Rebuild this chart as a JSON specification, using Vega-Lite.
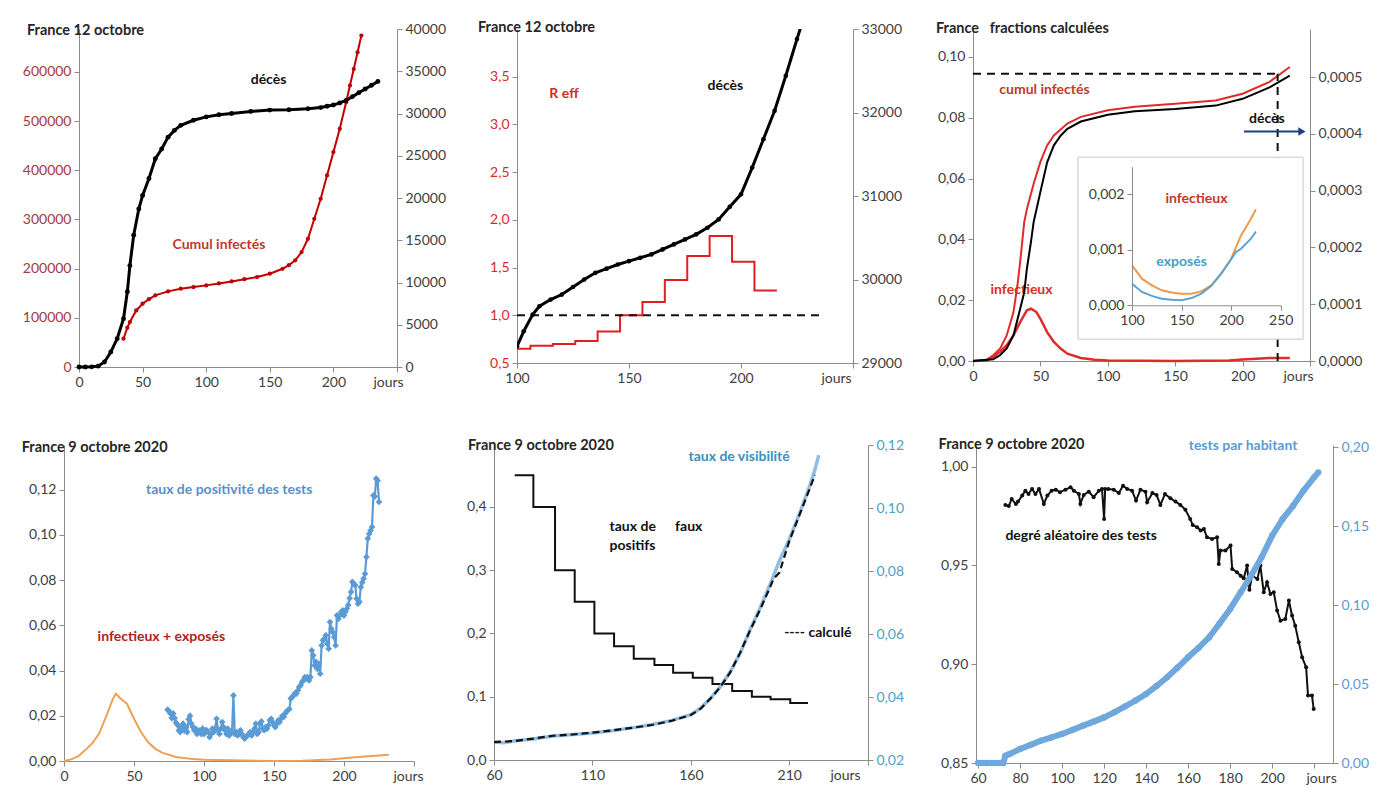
{
"$schema": "https://vega.github.io/schema/vega-lite/v6.json",
"padding": {"top": 19, "left": 5, "right": 5, "bottom": 5},
"background": "white",
"columns": 1,
"align": "none",
"spacing": 48,
"config": {
  "font": "Lato",
  "view": {"stroke": null},
  "axis": {"grid": false, "domainColor": "#8c8c8c", "tickColor": "#8c8c8c", "labelColor": "#404040", "labelFont": "Lato", "labelFontSize": 14, "tickSize": 5, "labelPadding": 3, "labelOverlap": false},
  "axisX": {"labelFlush": false},
  "title": {"font": "Lato", "fontSize": 14.5, "fontWeight": "bold", "color": "#262626"},
  "text": {"font": "Lato", "fontWeight": "bold", "fontSize": 14},
  "locale": {"number": {"decimal": ",", "thousands": "\u00a0", "grouping": [3], "currency": ["", "\u00a0€"]}}
},
"datasets": {
  "p1c": [{"jour":35,"v":57500},{"jour":38,"v":80000},{"jour":40,"v":91500},{"jour":45,"v":115000},{"jour":50,"v":128700},{"jour":55,"v":138000},{"jour":60,"v":145700},{"jour":70,"v":153800},{"jour":80,"v":159200},{"jour":90,"v":162500},{"jour":100,"v":166000},{"jour":110,"v":170000},{"jour":120,"v":174100},{"jour":130,"v":178500},{"jour":140,"v":183000},{"jour":150,"v":189700},{"jour":160,"v":199800},{"jour":165,"v":207000},{"jour":170,"v":216900},{"jour":175,"v":233700},{"jour":180,"v":260800},{"jour":185,"v":301400},{"jour":190,"v":342000},{"jour":195,"v":389600},{"jour":200,"v":437000},{"jour":205,"v":484400},{"jour":210,"v":538600},{"jour":213,"v":572500},{"jour":216,"v":606000},{"jour":219,"v":640000},{"jour":222,"v":674000}],
  "p1d": [{"jour":0,"v":0},{"jour":5,"v":5},{"jour":10,"v":20},{"jour":15,"v":100},{"jour":20,"v":590},{"jour":25,"v":1770},{"jour":30,"v":3350},{"jour":35,"v":5720},{"jour":38,"v":8900},{"jour":40,"v":12000},{"jour":43,"v":15600},{"jour":47,"v":18700},{"jour":50,"v":20300},{"jour":55,"v":22300},{"jour":60,"v":24650},{"jour":65,"v":25800},{"jour":70,"v":27200},{"jour":75,"v":28000},{"jour":80,"v":28600},{"jour":90,"v":29200},{"jour":100,"v":29600},{"jour":110,"v":29850},{"jour":120,"v":30000},{"jour":135,"v":30250},{"jour":150,"v":30400},{"jour":165,"v":30450},{"jour":180,"v":30570},{"jour":190,"v":30700},{"jour":195,"v":30850},{"jour":200,"v":31000},{"jour":205,"v":31250},{"jour":210,"v":31550},{"jour":215,"v":32000},{"jour":220,"v":32450},{"jour":225,"v":32900},{"jour":230,"v":33350},{"jour":235,"v":33800}],
  "p2d": [{"jour":100,"v":29200},{"jour":103,"v":29380},{"jour":107,"v":29580},{"jour":110,"v":29680},{"jour":115,"v":29760},{"jour":120,"v":29820},{"jour":125,"v":29910},{"jour":130,"v":30000},{"jour":135,"v":30080},{"jour":140,"v":30130},{"jour":145,"v":30180},{"jour":150,"v":30220},{"jour":155,"v":30260},{"jour":160,"v":30300},{"jour":165,"v":30360},{"jour":170,"v":30420},{"jour":175,"v":30480},{"jour":180,"v":30540},{"jour":185,"v":30620},{"jour":190,"v":30720},{"jour":195,"v":30870},{"jour":200,"v":31020},{"jour":205,"v":31340},{"jour":210,"v":31680},{"jour":215,"v":32020},{"jour":220,"v":32440},{"jour":225,"v":32880},{"jour":227,"v":33050}],
  "p2r": [{"jour":100,"v":0.65},{"jour":106,"v":0.68},{"jour":116,"v":0.70},{"jour":126,"v":0.73},{"jour":136,"v":0.83},{"jour":146,"v":1.0},{"jour":156,"v":1.14},{"jour":166,"v":1.37},{"jour":176,"v":1.62},{"jour":186,"v":1.83},{"jour":196,"v":1.56},{"jour":206,"v":1.26},{"jour":216,"v":1.26}],
  "p3c": [{"jour":0,"v":0},{"jour":10,"v":0.0004},{"jour":15,"v":0.0019},{"jour":20,"v":0.004},{"jour":25,"v":0.0084},{"jour":30,"v":0.016},{"jour":33,"v":0.025},{"jour":35,"v":0.0326},{"jour":38,"v":0.0457},{"jour":40,"v":0.05},{"jour":45,"v":0.0583},{"jour":50,"v":0.0655},{"jour":55,"v":0.0709},{"jour":60,"v":0.0742},{"jour":70,"v":0.0781},{"jour":80,"v":0.0803},{"jour":100,"v":0.0825},{"jour":120,"v":0.0836},{"jour":150,"v":0.0846},{"jour":180,"v":0.0857},{"jour":200,"v":0.0879},{"jour":220,"v":0.0918},{"jour":235,"v":0.0967}],
  "p3i": [{"jour":0,"v":0},{"jour":10,"v":0.0002},{"jour":15,"v":0.0013},{"jour":20,"v":0.003},{"jour":25,"v":0.0052},{"jour":30,"v":0.0084},{"jour":35,"v":0.0128},{"jour":40,"v":0.0167},{"jour":43,"v":0.0172},{"jour":47,"v":0.0161},{"jour":50,"v":0.0139},{"jour":55,"v":0.0095},{"jour":60,"v":0.0063},{"jour":65,"v":0.0041},{"jour":70,"v":0.0024},{"jour":80,"v":0.001},{"jour":90,"v":0.0004},{"jour":100,"v":0.0002},{"jour":150,"v":0},{"jour":190,"v":0.0002},{"jour":200,"v":0.0005},{"jour":220,"v":0.001},{"jour":235,"v":0.001}],
  "p3d": [{"jour":0,"v":0},{"jour":15,"v":0.000003},{"jour":20,"v":0.00001},{"jour":25,"v":0.000022},{"jour":30,"v":0.000045},{"jour":35,"v":0.000092},{"jour":38,"v":0.000121},{"jour":40,"v":0.000163},{"jour":43,"v":0.00021},{"jour":45,"v":0.000245},{"jour":50,"v":0.000298},{"jour":55,"v":0.00035},{"jour":60,"v":0.00038},{"jour":65,"v":0.000397},{"jour":70,"v":0.000409},{"jour":80,"v":0.000422},{"jour":100,"v":0.000434},{"jour":120,"v":0.00044},{"jour":150,"v":0.000444},{"jour":180,"v":0.00045},{"jour":200,"v":0.000462},{"jour":220,"v":0.000482},{"jour":235,"v":0.000503}],
  "p3o": [{"jour":100,"v":0.00072},{"jour":110,"v":0.00048},{"jour":120,"v":0.00036},{"jour":130,"v":0.00027},{"jour":140,"v":0.00023},{"jour":150,"v":0.00021},{"jour":160,"v":0.00021},{"jour":170,"v":0.00025},{"jour":180,"v":0.00036},{"jour":190,"v":0.00057},{"jour":200,"v":0.00084},{"jour":210,"v":0.00126},{"jour":220,"v":0.00156},{"jour":225,"v":0.00173}],
  "p3b": [{"jour":100,"v":0.00039},{"jour":110,"v":0.00024},{"jour":120,"v":0.00017},{"jour":130,"v":0.00012},{"jour":140,"v":0.0001},{"jour":150,"v":0.00009},{"jour":160,"v":0.00013},{"jour":170,"v":0.00021},{"jour":180,"v":0.00035},{"jour":190,"v":0.00057},{"jour":200,"v":0.00083},{"jour":205,"v":0.00096},{"jour":210,"v":0.00102},{"jour":220,"v":0.0012},{"jour":225,"v":0.00133}],
  "p4o": [{"jour":0,"v":0},{"jour":5,"v":0.0007},{"jour":10,"v":0.002},{"jour":15,"v":0.0047},{"jour":20,"v":0.0077},{"jour":25,"v":0.012},{"jour":30,"v":0.0195},{"jour":35,"v":0.0276},{"jour":37,"v":0.0298},{"jour":40,"v":0.0279},{"jour":45,"v":0.0253},{"jour":50,"v":0.0187},{"jour":55,"v":0.0128},{"jour":60,"v":0.0084},{"jour":65,"v":0.0055},{"jour":70,"v":0.0037},{"jour":80,"v":0.0018},{"jour":90,"v":0.001},{"jour":100,"v":0.0006},{"jour":120,"v":0.0003},{"jour":150,"v":0},{"jour":170,"v":0.0001},{"jour":190,"v":0.0007},{"jour":200,"v":0.0012},{"jour":210,"v":0.0018},{"jour":220,"v":0.0022},{"jour":232,"v":0.0028}],
  "p4b": [{"jour":74,"v":0.0227},{"jour":75,"v":0.022},{"jour":76,"v":0.021},{"jour":77,"v":0.019},{"jour":78,"v":0.021},{"jour":79,"v":0.019},{"jour":80,"v":0.017},{"jour":81,"v":0.016},{"jour":82,"v":0.0135},{"jour":83,"v":0.0128},{"jour":84,"v":0.015},{"jour":85,"v":0.0165},{"jour":86,"v":0.0135},{"jour":87,"v":0.015},{"jour":88,"v":0.0128},{"jour":89,"v":0.0185},{"jour":90,"v":0.02},{"jour":91,"v":0.0165},{"jour":92,"v":0.015},{"jour":93,"v":0.0136},{"jour":94,"v":0.0143},{"jour":95,"v":0.012},{"jour":96,"v":0.0128},{"jour":97,"v":0.0136},{"jour":98,"v":0.012},{"jour":99,"v":0.0143},{"jour":100,"v":0.012},{"jour":101,"v":0.0136},{"jour":102,"v":0.0136},{"jour":103,"v":0.0128},{"jour":104,"v":0.0106},{"jour":105,"v":0.012},{"jour":106,"v":0.0143},{"jour":107,"v":0.0128},{"jour":108,"v":0.0143},{"jour":109,"v":0.0187},{"jour":110,"v":0.0136},{"jour":111,"v":0.012},{"jour":112,"v":0.0143},{"jour":113,"v":0.0172},{"jour":114,"v":0.015},{"jour":115,"v":0.0136},{"jour":116,"v":0.012},{"jour":117,"v":0.0143},{"jour":118,"v":0.0113},{"jour":119,"v":0.0128},{"jour":120,"v":0.0128},{"jour":121,"v":0.029},{"jour":122,"v":0.012},{"jour":123,"v":0.0128},{"jour":124,"v":0.0113},{"jour":125,"v":0.012},{"jour":126,"v":0.0136},{"jour":127,"v":0.012},{"jour":128,"v":0.0106},{"jour":129,"v":0.0099},{"jour":130,"v":0.0106},{"jour":131,"v":0.0113},{"jour":132,"v":0.012},{"jour":133,"v":0.0128},{"jour":134,"v":0.0113},{"jour":135,"v":0.0128},{"jour":136,"v":0.0143},{"jour":137,"v":0.0165},{"jour":138,"v":0.012},{"jour":139,"v":0.0128},{"jour":140,"v":0.0165},{"jour":141,"v":0.0175},{"jour":142,"v":0.0143},{"jour":143,"v":0.0136},{"jour":144,"v":0.015},{"jour":145,"v":0.0143},{"jour":146,"v":0.0158},{"jour":147,"v":0.018},{"jour":148,"v":0.0187},{"jour":149,"v":0.0172},{"jour":150,"v":0.0158},{"jour":151,"v":0.015},{"jour":152,"v":0.0165},{"jour":153,"v":0.018},{"jour":154,"v":0.0172},{"jour":155,"v":0.0187},{"jour":156,"v":0.02},{"jour":157,"v":0.0195},{"jour":158,"v":0.021},{"jour":159,"v":0.022},{"jour":160,"v":0.0225},{"jour":161,"v":0.023},{"jour":162,"v":0.0276},{"jour":163,"v":0.0283},{"jour":164,"v":0.029},{"jour":165,"v":0.03},{"jour":166,"v":0.0298},{"jour":167,"v":0.0312},{"jour":168,"v":0.0327},{"jour":169,"v":0.0335},{"jour":170,"v":0.0349},{"jour":171,"v":0.0357},{"jour":172,"v":0.0371},{"jour":173,"v":0.0364},{"jour":174,"v":0.0371},{"jour":175,"v":0.0357},{"jour":176,"v":0.0371},{"jour":177,"v":0.0489},{"jour":178,"v":0.0467},{"jour":179,"v":0.0423},{"jour":180,"v":0.0438},{"jour":181,"v":0.0408},{"jour":182,"v":0.043},{"jour":183,"v":0.0386},{"jour":184,"v":0.0511},{"jour":185,"v":0.0534},{"jour":186,"v":0.0541},{"jour":187,"v":0.0556},{"jour":188,"v":0.0519},{"jour":189,"v":0.0497},{"jour":190,"v":0.0615},{"jour":191,"v":0.0585},{"jour":192,"v":0.057},{"jour":193,"v":0.0548},{"jour":194,"v":0.0511},{"jour":195,"v":0.0644},{"jour":196,"v":0.0629},{"jour":197,"v":0.0644},{"jour":198,"v":0.0659},{"jour":199,"v":0.0666},{"jour":200,"v":0.0644},{"jour":201,"v":0.066},{"jour":202,"v":0.0674},{"jour":203,"v":0.069},{"jour":204,"v":0.072},{"jour":205,"v":0.0748},{"jour":206,"v":0.0792},{"jour":207,"v":0.0785},{"jour":208,"v":0.0777},{"jour":209,"v":0.0718},{"jour":210,"v":0.0696},{"jour":211,"v":0.0704},{"jour":212,"v":0.0769},{"jour":213,"v":0.079},{"jour":214,"v":0.0807},{"jour":215,"v":0.0828},{"jour":216,"v":0.0903},{"jour":217,"v":0.0984},{"jour":218,"v":0.1005},{"jour":219,"v":0.102},{"jour":220,"v":0.1035},{"jour":221,"v":0.1175},{"jour":222,"v":0.117},{"jour":223,"v":0.1249},{"jour":224,"v":0.124},{"jour":225,"v":0.1146}],
  "p5s": [{"jour":70.5,"v":0.45},{"jour":80,"v":0.40},{"jour":91,"v":0.30},{"jour":101,"v":0.25},{"jour":111,"v":0.20},{"jour":121,"v":0.18},{"jour":131,"v":0.16},{"jour":141.5,"v":0.15},{"jour":151,"v":0.138},{"jour":161,"v":0.13},{"jour":171,"v":0.12},{"jour":181,"v":0.109},{"jour":191,"v":0.10},{"jour":200.5,"v":0.096},{"jour":210.5,"v":0.09},{"jour":219.5,"v":0.09}],
  "p5v": [{"jour":60,"v":0.0257},{"jour":65,"v":0.0255},{"jour":70,"v":0.026},{"jour":80,"v":0.0267},{"jour":90,"v":0.0276},{"jour":100,"v":0.0281},{"jour":110,"v":0.0286},{"jour":120,"v":0.0293},{"jour":130,"v":0.0302},{"jour":140,"v":0.0312},{"jour":150,"v":0.0325},{"jour":160,"v":0.0344},{"jour":165,"v":0.0365},{"jour":170,"v":0.0396},{"jour":175,"v":0.0433},{"jour":180,"v":0.048},{"jour":185,"v":0.0538},{"jour":190,"v":0.0612},{"jour":195,"v":0.068},{"jour":200,"v":0.0753},{"jour":205,"v":0.0832},{"jour":210,"v":0.09},{"jour":215,"v":0.0979},{"jour":220,"v":0.1063},{"jour":223,"v":0.1121},{"jour":225,"v":0.1168}],
  "p5k": [{"jour":60,"v":0.0257},{"jour":70,"v":0.026},{"jour":80,"v":0.0268},{"jour":90,"v":0.0277},{"jour":100,"v":0.0281},{"jour":110,"v":0.0287},{"jour":120,"v":0.0294},{"jour":130,"v":0.0302},{"jour":140,"v":0.0311},{"jour":150,"v":0.0324},{"jour":160,"v":0.0343},{"jour":165,"v":0.0363},{"jour":170,"v":0.0395},{"jour":175,"v":0.0432},{"jour":180,"v":0.0478},{"jour":185,"v":0.054},{"jour":190,"v":0.061},{"jour":195,"v":0.0675},{"jour":200,"v":0.0745},{"jour":202,"v":0.0775},{"jour":205,"v":0.0795},{"jour":210,"v":0.0895},{"jour":215,"v":0.0975},{"jour":220,"v":0.1055},{"jour":223,"v":0.1105}],
  "p6b": [{"jour":60,"v":0},{"jour":62,"v":0},{"jour":64,"v":0},{"jour":66,"v":0},{"jour":68,"v":0},{"jour":70,"v":0},{"jour":72,"v":0},{"jour":73,"v":0.0046},{"jour":75,"v":0.0057},{"jour":80,"v":0.0089},{"jour":85,"v":0.0115},{"jour":90,"v":0.0142},{"jour":95,"v":0.0163},{"jour":100,"v":0.0184},{"jour":105,"v":0.021},{"jour":110,"v":0.0237},{"jour":115,"v":0.0262},{"jour":120,"v":0.0289},{"jour":125,"v":0.0322},{"jour":130,"v":0.0359},{"jour":135,"v":0.0396},{"jour":140,"v":0.0437},{"jour":145,"v":0.0488},{"jour":150,"v":0.0543},{"jour":155,"v":0.0605},{"jour":160,"v":0.067},{"jour":165,"v":0.073},{"jour":170,"v":0.0796},{"jour":175,"v":0.0885},{"jour":180,"v":0.0976},{"jour":185,"v":0.1081},{"jour":190,"v":0.1187},{"jour":195,"v":0.1303},{"jour":200,"v":0.144},{"jour":205,"v":0.1546},{"jour":210,"v":0.163},{"jour":215,"v":0.1726},{"jour":220,"v":0.181},{"jour":222,"v":0.1842}],
  "p6k": [{"jour":73,"v":0.9806},{"jour":74.6,"v":0.98},{"jour":76,"v":0.9836},{"jour":78,"v":0.981},{"jour":79,"v":0.9823},{"jour":81,"v":0.9853},{"jour":82.5,"v":0.9878},{"jour":84,"v":0.9861},{"jour":85.7,"v":0.9887},{"jour":87.3,"v":0.9861},{"jour":89,"v":0.9887},{"jour":91.3,"v":0.9811},{"jour":93,"v":0.9853},{"jour":95,"v":0.9878},{"jour":97,"v":0.9883},{"jour":99,"v":0.987},{"jour":101.6,"v":0.9883},{"jour":104,"v":0.9895},{"jour":105.6,"v":0.9878},{"jour":108,"v":0.9861},{"jour":108.7,"v":0.9811},{"jour":110.3,"v":0.9856},{"jour":112.7,"v":0.9873},{"jour":115,"v":0.9845},{"jour":117.5,"v":0.9878},{"jour":119,"v":0.9887},{"jour":120,"v":0.9735},{"jour":120.5,"v":0.9887},{"jour":122,"v":0.9887},{"jour":124.6,"v":0.9883},{"jour":127,"v":0.9866},{"jour":129,"v":0.9903},{"jour":131,"v":0.9887},{"jour":133.3,"v":0.9878},{"jour":135.2,"v":0.9828},{"jour":137.3,"v":0.9883},{"jour":139.7,"v":0.9873},{"jour":140.5,"v":0.9819},{"jour":143,"v":0.9866},{"jour":145,"v":0.9856},{"jour":146.8,"v":0.9806},{"jour":149,"v":0.9861},{"jour":151.6,"v":0.9839},{"jour":154,"v":0.9823},{"jour":156.3,"v":0.9806},{"jour":158.7,"v":0.9782},{"jour":161,"v":0.9735},{"jour":162.2,"v":0.9704},{"jour":164.3,"v":0.9693},{"jour":166,"v":0.9676},{"jour":167.5,"v":0.9684},{"jour":169,"v":0.9642},{"jour":171.4,"v":0.9634},{"jour":173.8,"v":0.9642},{"jour":174.6,"v":0.9507},{"jour":175.4,"v":0.9575},{"jour":177.8,"v":0.9575},{"jour":180.2,"v":0.96},{"jour":181,"v":0.9482},{"jour":183.3,"v":0.9465},{"jour":185,"v":0.9448},{"jour":186.5,"v":0.9435},{"jour":188.1,"v":0.9499},{"jour":189.2,"v":0.9377},{"jour":190.5,"v":0.9448},{"jour":193,"v":0.9431},{"jour":194.4,"v":0.9499},{"jour":196,"v":0.9364},{"jour":197.6,"v":0.9414},{"jour":199.2,"v":0.9355},{"jour":200.8,"v":0.9364},{"jour":202.4,"v":0.9271},{"jour":204,"v":0.922},{"jour":206.3,"v":0.9229},{"jour":208,"v":0.9322},{"jour":209.5,"v":0.9246},{"jour":211,"v":0.9195},{"jour":212.7,"v":0.9111},{"jour":214.3,"v":0.9035},{"jour":216.2,"v":0.8984},{"jour":217.1,"v":0.8841},{"jour":219,"v":0.8841},{"jour":219.8,"v":0.8773}]
},
"concat": [
 {"spacing": 10, "hconcat": [
  {"width": 318, "height": 338,
   "title": {"text": "France 12 octobre", "anchor": "start", "frame": "group", "dx": -52, "offset": -16},
   "layer": [
    {"layer": [
     {"data": {"name": "p1c"}, "mark": {"type": "line", "color": "#c00000", "strokeWidth": 2, "point": {"filled": true, "size": 18, "color": "#c00000"}},
      "encoding": {
       "x": {"field": "jour", "type": "quantitative", "scale": {"domain": [0, 250], "nice": false, "zero": false}, "axis": {"values": [0,50,100,150,200,250], "title": null, "labelExpr": "datum.value == 250 ? 'jours' : datum.label", "labelOffset": {"condition": {"test": "datum.value == 250", "value": -9}, "value": 0}}},
       "y": {"field": "v", "type": "quantitative", "scale": {"domain": [0, 687400], "nice": false}, "axis": {"values": [0,100000,200000,300000,400000,500000,600000], "format": "d", "labelColor": "#a33b3b", "minExtent": 74, "maxExtent": 74, "title": null}}}},
     {"data": {"values": [{}]}, "mark": {"type": "text", "text": "Cumul infectés", "color": "#c0392b"}, "encoding": {"x": {"datum": 110}, "y": {"datum": 248700}}}
    ]},
    {"layer": [
     {"data": {"name": "p1d"}, "mark": {"type": "line", "color": "#000000", "strokeWidth": 3, "point": {"filled": true, "size": 24, "color": "#000000"}},
      "encoding": {
       "x": {"field": "jour", "type": "quantitative", "scale": {"domain": [0, 250], "nice": false, "zero": false}},
       "y": {"field": "v", "type": "quantitative", "scale": {"domain": [0, 40000], "nice": false}, "axis": {"orient": "right", "values": [0,5000,10000,15000,20000,25000,30000,35000,40000], "format": "d", "minExtent": 55, "maxExtent": 55, "title": null}}}},
     {"data": {"values": [{}]}, "mark": {"type": "text", "text": "décès", "color": "#111111"}, "encoding": {"x": {"datum": 149}, "y": {"datum": 33930}}}
    ]}
   ],
   "resolve": {"scale": {"y": "independent"}}
  },
  {"width": 336, "height": 334,
   "title": {"text": "France 12 octobre", "anchor": "start", "frame": "group", "dx": -39, "offset": -13},
   "layer": [
    {"layer": [
     {"data": {"name": "p2r"}, "mark": {"type": "line", "interpolate": "step-after", "color": "#e02020", "strokeWidth": 2},
      "encoding": {
       "x": {"field": "jour", "type": "quantitative", "scale": {"domain": [100, 250], "nice": false, "zero": false}, "axis": {"values": [100,150,200,250], "title": null, "labelExpr": "datum.value == 250 ? 'jours' : datum.label", "labelOffset": {"condition": {"test": "datum.value == 250", "value": -17}, "value": 0}}},
       "y": {"field": "v", "type": "quantitative", "scale": {"domain": [0.5, 4.0], "nice": false, "zero": false}, "axis": {"values": [0.5,1,1.5,2,2.5,3,3.5], "format": ".1f", "labelColor": "#d42a2a", "minExtent": 55, "maxExtent": 55, "title": null}}}},
     {"data": {"values": [{}]}, "mark": {"type": "rule", "color": "#111111", "strokeWidth": 2, "strokeDash": [8, 6]}, "encoding": {"x": {"datum": 100}, "x2": {"datum": 236}, "y": {"datum": 1.0}}},
     {"data": {"values": [{}]}, "mark": {"type": "text", "text": "R eff", "color": "#d42a2a"}, "encoding": {"x": {"datum": 121}, "y": {"datum": 3.32}}},
     {"data": {"values": [{}]}, "mark": {"type": "text", "text": "décès", "color": "#111111"}, "encoding": {"x": {"datum": 193}, "y": {"datum": 3.40}}}
    ]},
    {"layer": [
     {"data": {"name": "p2d"}, "mark": {"type": "line", "color": "#000000", "strokeWidth": 3, "clip": true, "point": {"filled": true, "size": 22, "color": "#000000"}},
      "encoding": {
       "x": {"field": "jour", "type": "quantitative", "scale": {"domain": [100, 250], "nice": false, "zero": false}},
       "y": {"field": "v", "type": "quantitative", "scale": {"domain": [29000, 33000], "nice": false, "zero": false}, "axis": {"orient": "right", "values": [29000,30000,31000,32000,33000], "format": "d", "minExtent": 55, "maxExtent": 55, "title": null}}}}
    ]}
   ],
   "resolve": {"scale": {"y": "independent"}}
  },
  {"width": 337, "height": 332,
   "title": {"text": "France\u00a0\u00a0\u00a0fractions calculées", "anchor": "start", "frame": "group", "dx": -37, "offset": -7},
   "layer": [
    {"layer": [
     {"data": {"name": "p3c"}, "mark": {"type": "line", "color": "#e02b2b", "strokeWidth": 2},
      "encoding": {
       "x": {"field": "jour", "type": "quantitative", "scale": {"domain": [0, 250], "nice": false, "zero": false}, "axis": {"orient": "bottom", "values": [0,50,100,150,200,250], "title": null, "labelExpr": "datum.value == 250 ? 'jours' : datum.label", "labelOffset": {"condition": {"test": "datum.value == 250", "value": -12}, "value": 0}}},
       "y": {"field": "v", "type": "quantitative", "scale": {"domain": [0, 0.1092], "nice": false}, "axis": {"orient": "left", "values": [0,0.02,0.04,0.06,0.08,0.1], "format": ".2f", "minExtent": 55, "maxExtent": 55, "title": null}}}},
     {"data": {"name": "p3i"}, "mark": {"type": "line", "color": "#e02b2b", "strokeWidth": 2.5}, "encoding": {"x": {"field": "jour", "type": "quantitative"}, "y": {"field": "v", "type": "quantitative"}}},
     {"data": {"values": [{}]}, "mark": {"type": "rule", "color": "#111111", "strokeWidth": 2, "strokeDash": [8, 6]}, "encoding": {"x": {"datum": 0}, "x2": {"datum": 226}, "y": {"datum": 0.0945}}},
     {"data": {"values": [{}]}, "mark": {"type": "rule", "color": "#111111", "strokeWidth": 2, "strokeDash": [8, 6]}, "encoding": {"x": {"datum": 226}, "y": {"datum": 0}, "y2": {"datum": 0.0945}}},
     {"data": {"values": [{}]}, "mark": {"type": "rule", "color": "#1f3f7f", "strokeWidth": 2}, "encoding": {"x": {"datum": 201}, "x2": {"datum": 243}, "y": {"datum": 0.0755}}},
     {"data": {"values": [{}]}, "mark": {"type": "point", "shape": "triangle-right", "filled": true, "size": 70, "color": "#1f3f7f", "opacity": 1}, "encoding": {"x": {"datum": 244}, "y": {"datum": 0.0755}}},
     {"data": {"values": [{}]}, "mark": {"type": "text", "text": "cumul infectés", "color": "#c0392b"}, "encoding": {"x": {"datum": 53}, "y": {"datum": 0.089}}},
     {"data": {"values": [{}]}, "mark": {"type": "text", "text": "infectieux", "color": "#e02b2b"}, "encoding": {"x": {"datum": 36}, "y": {"datum": 0.0232}}},
     {"data": {"values": [{}]}, "mark": {"type": "text", "text": "décès", "color": "#111111"}, "encoding": {"x": {"datum": 218}, "y": {"datum": 0.0795}}}
    ]},
    {"layer": [
     {"data": {"name": "p3d"}, "mark": {"type": "line", "color": "#000000", "strokeWidth": 2},
      "encoding": {
       "x": {"field": "jour", "type": "quantitative", "scale": {"domain": [0, 250], "nice": false, "zero": false}, "axis": null},
       "y": {"field": "v", "type": "quantitative", "scale": {"domain": [0, 0.000585], "nice": false}, "axis": {"orient": "right", "values": [0,0.0001,0.0002,0.0003,0.0004,0.0005], "format": ".4f", "minExtent": 55, "maxExtent": 55, "title": null}}}}
    ]},
    {"layer": [
     {"data": {"values": [{}]}, "mark": {"type": "rect", "fill": "white", "stroke": "#c8c8c8", "strokeWidth": 1},
      "encoding": {
       "x": {"datum": 45.5, "type": "quantitative", "scale": {"domain": [100, 250], "range": [159, 307.7], "nice": false, "zero": false}, "axis": {"orient": "bottom", "offset": -55.7, "zindex": 2, "values": [100,150,200,250], "format": "d", "title": null}},
       "x2": {"datum": 272.6},
       "y": {"datum": -0.00061, "type": "quantitative", "scale": {"domain": [0, 0.0025], "range": [276.3, 137.6], "nice": false, "zero": false}, "axis": {"orient": "left", "offset": -159, "zindex": 2, "values": [0,0.001,0.002], "format": ".3f", "title": null}},
       "y2": {"datum": 0.00267}}},
     {"data": {"name": "p3o"}, "mark": {"type": "line", "color": "#eb9a4e", "strokeWidth": 2}, "encoding": {"x": {"field": "jour", "type": "quantitative"}, "y": {"field": "v", "type": "quantitative"}}},
     {"data": {"name": "p3b"}, "mark": {"type": "line", "color": "#5ba3d0", "strokeWidth": 2}, "encoding": {"x": {"field": "jour", "type": "quantitative"}, "y": {"field": "v", "type": "quantitative"}}},
     {"data": {"values": [{}]}, "mark": {"type": "text", "text": "infectieux", "color": "#c0392b"}, "encoding": {"x": {"datum": 165}, "y": {"datum": 0.00192}}},
     {"data": {"values": [{}]}, "mark": {"type": "text", "text": "exposés", "color": "#4a9ec8"}, "encoding": {"x": {"datum": 150}, "y": {"datum": 0.00078}}}
    ]}
   ],
   "resolve": {"scale": {"x": "independent", "y": "independent"}}
  }
 ]},
 {"spacing": 10, "hconcat": [
  {"width": 335, "height": 316,
   "title": {"text": "France 9 octobre 2020", "anchor": "start", "frame": "group", "dx": -57.3, "offset": -10},
   "layer": [
    {"data": {"name": "p4o"}, "mark": {"type": "line", "color": "#f0a055", "strokeWidth": 2},
     "encoding": {
      "x": {"field": "jour", "type": "quantitative", "scale": {"domain": [0, 250], "range": [-15, 335], "nice": false, "zero": false}, "axis": {"values": [0,50,100,150,200,250], "title": null, "labelExpr": "datum.value == 250 ? 'jours' : datum.label", "labelOffset": {"condition": {"test": "datum.value == 250", "value": -6}, "value": 0}}},
      "y": {"field": "v", "type": "quantitative", "scale": {"domain": [0, 0.1398], "nice": false}, "axis": {"offset": 15, "values": [0,0.02,0.04,0.06,0.08,0.1,0.12], "format": ".2f", "minExtent": 59, "maxExtent": 59, "title": null}}}},
    {"data": {"name": "p4b"}, "mark": {"type": "line", "color": "#5b9bd5", "strokeWidth": 2.2, "point": {"filled": true, "shape": "diamond", "size": 45, "color": "#5b9bd5"}},
     "encoding": {"x": {"field": "jour", "type": "quantitative"}, "y": {"field": "v", "type": "quantitative"}}},
    {"data": {"values": [{}]}, "mark": {"type": "text", "text": "taux de positivité des tests", "color": "#5b8fc9"}, "encoding": {"x": {"datum": 118}, "y": {"datum": 0.1197}}},
    {"data": {"values": [{}]}, "mark": {"type": "text", "text": "infectieux + exposés", "color": "#b22222"}, "encoding": {"x": {"datum": 69.5}, "y": {"datum": 0.0548}}}
   ]
  },
  {"width": 374, "height": 315,
   "title": {"text": "France 9 octobre 2020", "anchor": "start", "frame": "group", "dx": -26, "offset": -15},
   "layer": [
    {"layer": [
     {"data": {"name": "p5s"}, "mark": {"type": "line", "interpolate": "step-after", "color": "#111111", "strokeWidth": 2},
      "encoding": {
       "x": {"field": "jour", "type": "quantitative", "scale": {"domain": [60, 250], "nice": false, "zero": false}, "axis": {"values": [60,110,160,210,250], "title": null, "labelExpr": "datum.value == 250 ? 'jours' : datum.label", "labelOffset": {"condition": {"test": "datum.value == 250", "value": -23}, "value": 0}}},
       "y": {"field": "v", "type": "quantitative", "scale": {"domain": [0, 0.498], "nice": false}, "axis": {"values": [0,0.1,0.2,0.3,0.4], "format": ".1f", "minExtent": 55, "maxExtent": 55, "title": null}}}},
     {"data": {"values": [{}]}, "mark": {"type": "text", "text": "taux de", "align": "left", "color": "#111111"}, "encoding": {"x": {"datum": 118.7}, "y": {"datum": 0.369}}},
     {"data": {"values": [{}]}, "mark": {"type": "text", "text": "faux", "align": "left", "color": "#111111"}, "encoding": {"x": {"datum": 152}, "y": {"datum": 0.369}}},
     {"data": {"values": [{}]}, "mark": {"type": "text", "text": "positifs", "align": "left", "color": "#111111"}, "encoding": {"x": {"datum": 118.7}, "y": {"datum": 0.339}}},
     {"data": {"values": [{}]}, "mark": {"type": "text", "text": "---- calculé", "align": "left", "color": "#111111"}, "encoding": {"x": {"datum": 207.4}, "y": {"datum": 0.201}}}
    ]},
    {"layer": [
     {"data": {"name": "p5v"}, "mark": {"type": "line", "color": "#8fbde3", "strokeWidth": 3.5},
      "encoding": {
       "x": {"field": "jour", "type": "quantitative", "scale": {"domain": [60, 250], "nice": false, "zero": false}},
       "y": {"field": "v", "type": "quantitative", "scale": {"domain": [0.02, 0.12], "nice": false, "zero": false}, "axis": {"orient": "right", "values": [0.02,0.04,0.06,0.08,0.1,0.12], "format": ".2f", "labelColor": "#4aa3c2", "minExtent": 50, "maxExtent": 50, "title": null}}}},
     {"data": {"name": "p5k"}, "mark": {"type": "line", "color": "#111111", "strokeWidth": 2.2, "strokeDash": [7, 4]}, "encoding": {"x": {"field": "jour", "type": "quantitative"}, "y": {"field": "v", "type": "quantitative"}}},
     {"data": {"values": [{}]}, "mark": {"type": "text", "text": "taux de visibilité", "color": "#3a8fbf"}, "encoding": {"x": {"datum": 184.5}, "y": {"datum": 0.1163}}}
    ]}
   ],
   "resolve": {"scale": {"y": "independent"}}
  },
  {"width": 357, "height": 318,
   "title": {"text": "France 9 octobre 2020", "anchor": "start", "frame": "group", "dx": -37.4, "offset": -14},
   "layer": [
    {"layer": [
     {"data": {"name": "p6k"}, "mark": {"type": "line", "color": "#111111", "strokeWidth": 2, "point": {"filled": true, "size": 16, "color": "#111111"}},
      "encoding": {
       "x": {"field": "jour", "type": "quantitative", "scale": {"domain": [59, 229], "nice": false, "zero": false}, "axis": {"values": [60,80,100,120,140,160,180,200,220], "title": null, "labelExpr": "datum.value == 220 ? 'jours' : datum.label", "labelOffset": {"condition": {"test": "datum.value == 220", "value": 7}, "value": 0}}},
       "y": {"field": "v", "type": "quantitative", "scale": {"domain": [0.85, 1.0109], "nice": false, "zero": false}, "axis": {"values": [0.85,0.9,0.95,1.0], "format": ".2f", "minExtent": 48, "maxExtent": 48, "title": null}}}},
     {"data": {"values": [{}]}, "mark": {"type": "text", "text": "degré aléatoire des tests", "align": "left", "color": "#111111"}, "encoding": {"x": {"datum": 73}, "y": {"datum": 0.965}}}
    ]},
    {"layer": [
     {"data": {"name": "p6b"}, "mark": {"type": "line", "color": "#6fa8dc", "strokeWidth": 6, "point": {"filled": true, "size": 40, "color": "#6fa8dc"}},
      "encoding": {
       "x": {"field": "jour", "type": "quantitative", "scale": {"domain": [59, 229], "nice": false, "zero": false}},
       "y": {"field": "v", "type": "quantitative", "scale": {"domain": [0, 0.2015], "nice": false}, "axis": {"orient": "right", "values": [0,0.05,0.1,0.15,0.2], "format": ".2f", "labelColor": "#5b9bd5", "minExtent": 50, "maxExtent": 50, "title": null}}}},
     {"data": {"values": [{}]}, "mark": {"type": "text", "text": "tests par habitant", "align": "left", "color": "#5b9bd5"}, "encoding": {"x": {"datum": 160.3}, "y": {"datum": 0.201}}}
    ]}
   ],
   "resolve": {"scale": {"y": "independent"}}
  }
 ]}
]
}
